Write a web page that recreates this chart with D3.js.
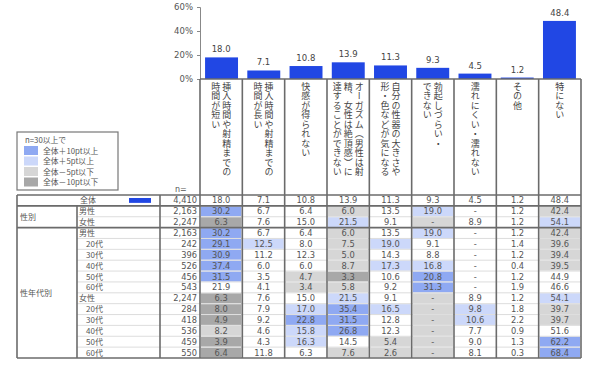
<!DOCTYPE html>
<html><head><meta charset="utf-8">
<script src="https://cdn.jsdelivr.net/npm/d3@7"></script>
<style>
body{margin:0;background:#fff;}
text{font-family:"Noto Sans CJK JP","Noto Sans",sans-serif;}
</style></head>
<body>
<svg id="chart" width="602" height="366"></svg>
<script>
// ---- data ----
const categories = ["短い","長い","快感","オーガズム","性器","勃起","濡れ","その他","特にない"];
const headerLines = [
  ["挿入時間や射精までの","時間が短い"],
  ["挿入時間や射精までの","時間が長い"],
  ["快感が得られない"],
  ["オーガズム（男性は射","精、女性は絶頂感）に","達することができない"],
  ["自分の性器の大きさや","形・色などが気になる"],
  ["勃起しづらい・","できない"],
  ["濡れにくい・濡れない"],
  ["その他"],
  ["特にない"]
];
const rowLabels = ["全体","男性","女性","男性","20代","30代","40代","50代","60代","女性","20代","30代","40代","50代","60代"];
const rowIndent = [0,0,0,0,1,1,1,1,1,0,1,1,1,1,1];
const nValues = [4410,2163,2247,2163,242,396,526,456,543,2247,284,418,536,459,550];
const groupLabels = [{label:"性別",from:1,to:2},{label:"性年代別",from:3,to:14}];
const colShort   = [18.0,30.2,6.3,30.2,29.1,30.9,37.4,31.5,21.9,6.3,8.0,4.9,8.2,3.9,6.4];
const colLong    = [7.1,6.7,7.6,6.7,12.5,11.2,6.0,3.5,4.1,7.6,7.9,9.2,4.6,4.3,11.8];
const colPleasure= [10.8,6.4,15.0,6.4,8.0,12.3,6.0,4.7,3.4,15.0,17.0,22.8,15.8,16.3,6.3];
const colOrgasm  = [13.9,6.0,21.5,6.0,7.5,5.0,8.7,3.3,5.8,21.5,35.4,31.5,26.8,14.5,7.6];
const colGenital = [11.3,13.5,9.1,13.5,19.0,14.3,17.3,10.6,9.2,9.1,16.5,12.8,12.3,5.4,2.6];
const colErect   = [9.3,19.0,null,19.0,9.1,8.8,16.8,20.8,31.3,null,null,null,null,null,null];
const colWet     = [4.5,null,8.9,null,null,null,null,null,null,8.9,9.8,10.6,7.7,9.0,8.1];
const colOther   = [1.2,1.2,1.2,1.2,1.4,1.2,0.4,1.2,1.9,1.2,1.8,2.2,0.9,1.3,0.3];
const colNone    = [48.4,42.4,54.1,42.4,39.6,39.4,39.5,44.9,46.6,54.1,39.7,39.7,51.6,62.2,68.4];
const columns = [colShort,colLong,colPleasure,colOrgasm,colGenital,colErect,colWet,colOther,colNone];
const yTicks = [0,20,40,60];
const legendTitle = "n=30以上で";
const legendItems = ["全体＋10pt以上","全体＋5pt以上","全体－5pt以下","全体－10pt以下"];

// ---- layout ----
const svg = d3.select("#chart");
const barColor = "#2147e4";
const shadeColors = ["#8fa9f2","#ccd8fa","#d6d6d6","#a8a8a8"];
const lineDark = "#6b6b6b", lineLight = "#d4d4d4", textCol = "#555";

const x = d3.scaleBand().domain(categories).range([200,581]);
const xBar = d3.scaleBand().domain(categories).range([200,581]).paddingInner(0.22).paddingOuter(0.12);
const y = d3.scaleLinear().domain([0,60]).range([79,7]);
const rows = d3.range(rowLabels.length);
const yRow = d3.scaleBand().domain(rows).range([195,358]);

// y axis
const yAxis = d3.axisLeft(y).tickValues(yTicks).tickFormat(d=>d+"%").tickSize(3);
const ga = svg.append("g").attr("transform","translate(200,0)").call(yAxis);
ga.select(".domain").attr("stroke","#888");
ga.selectAll(".tick line").attr("stroke","#888");
ga.selectAll(".tick text").attr("fill",textCol).attr("x",-7)
  .style("font-family","'DejaVu Sans',sans-serif").attr("font-size",8.5);

// bars
const totals = columns.map(c=>c[0]);
svg.selectAll("rect.bar").data(categories).join("rect").attr("class","bar")
  .attr("x",d=>xBar(d)).attr("width",xBar.bandwidth())
  .attr("y",(d,i)=>y(totals[i])).attr("height",(d,i)=>y(0)-y(totals[i]))
  .attr("fill",barColor);
svg.selectAll("text.blab").data(categories).join("text").attr("class","blab")
  .attr("x",d=>x(d)+x.bandwidth()/2).attr("y",(d,i)=>y(totals[i])-5)
  .attr("text-anchor","middle").attr("font-size",8.5).attr("fill","#444")
  .style("font-family","'DejaVu Sans',sans-serif")
  .text((d,i)=>totals[i].toFixed(1));

// header vertical text
categories.forEach((c,i)=>{
  const lines = headerLines[i];
  const cx = x(c)+x.bandwidth()/2;
  const step = 11;
  const n = lines.length;
  lines.forEach((ln,j)=>{
    const lx = cx + ((n-1)/2 - j)*step;
    svg.append("text").attr("x",lx).attr("y",82)
      .attr("font-size",9).attr("fill","#444")
      .style("writing-mode","vertical-rl").style("letter-spacing","0.5px")
      .text(ln);
  });
});

// shading cells
function shade(v,total){
  const d = (v==null?0:v) - total;
  if(d>=10) return shadeColors[0];
  if(d>=5) return shadeColors[1];
  if(d<=-10) return shadeColors[3];
  if(d<=-5) return shadeColors[2];
  return null;
}
categories.forEach((c,i)=>{
  const col = columns[i];
  rows.forEach(r=>{
    if(r===0) return;
    const f = shade(col[r], col[0]);
    if(f) svg.append("rect").attr("x",x(c)+1).attr("y",yRow(r)+0.5)
      .attr("width",x.bandwidth()-2).attr("height",yRow.bandwidth()-1).attr("fill",f);
  });
});

// light row lines
rows.forEach(r=>{
  if(r===0) return;
  const yy = yRow(r);
  const x0 = (r===1||r===3)?17:77;
  svg.append("line").attr("x1",x0).attr("x2",581).attr("y1",yy).attr("y2",yy)
    .attr("stroke",lineLight).attr("stroke-width",0.8);
});

// cell values
categories.forEach((c,i)=>{
  svg.selectAll(null).data(columns[i]).join("text")
    .attr("x",x(c)+x.bandwidth()/2).attr("y",(d,r)=>yRow(r)+yRow.bandwidth()/2+3)
    .attr("text-anchor","middle").attr("font-size",8.3).attr("fill",textCol)
    .style("font-family","'DejaVu Sans',sans-serif")
    .text(d=>d==null?"-":d.toFixed(1));
});

// left table text
svg.selectAll("text.rl").data(rowLabels).join("text").attr("class","rl")
  .attr("x",(d,r)=>r===0?88:(rowIndent[r]?86:79))
  .attr("y",(d,r)=>yRow(r)+yRow.bandwidth()/2+3)
  .attr("text-anchor",(d,r)=>r===0?"middle":"start")
  .attr("font-size",8).attr("fill",textCol).text(d=>d);
svg.selectAll("text.nv").data(nValues).join("text").attr("class","nv")
  .attr("x",197).attr("y",(d,r)=>yRow(r)+yRow.bandwidth()/2+3)
  .attr("text-anchor","end").attr("font-size",8.3).attr("fill",textCol)
  .style("font-family","'DejaVu Sans',sans-serif")
  .text(d=>d3.format(",")(d));
svg.append("rect").attr("x",129).attr("y",yRow(0)+3).attr("width",22).attr("height",yRow.bandwidth()-6).attr("fill",barColor);
groupLabels.forEach(g=>{
  const yc = (yRow(g.from)+yRow(g.to)+yRow.bandwidth())/2;
  svg.append("text").attr("x",20).attr("y",yc+3).attr("font-size",8).attr("fill",textCol).text(g.label);
});
svg.append("text").attr("x",175).attr("y",192).attr("font-size",8).attr("fill",textCol)
  .style("font-family","'DejaVu Sans',sans-serif").text("n=");

// dark lines
const dark = (x1,y1,x2,y2,w=1.6)=>svg.append("line").attr("x1",x1).attr("y1",y1).attr("x2",x2).attr("y2",y2)
  .attr("stroke",lineDark).attr("stroke-width",w);
dark(200,79,581,79,1.4);
[195, yRow(1), yRow(3), 358].forEach(yy=>dark(17,yy,581,yy));
dark(17,195,17,358); dark(77,yRow(1),77,358); dark(160,195,160,358);
categories.forEach(c=>dark(x(c),79,x(c),358));
dark(581,79,581,358);

// legend
svg.append("rect").attr("x",17).attr("y",132).attr("width",101).attr("height",58)
  .attr("fill","#fff").attr("stroke","#777").attr("stroke-width",1.2);
svg.append("text").attr("x",25).attr("y",143).attr("font-size",7.8).attr("fill",textCol).text(legendTitle);
legendItems.forEach((t,i)=>{
  const yy = 146 + i*10.5;
  svg.append("rect").attr("x",24).attr("y",yy).attr("width",14).attr("height",9).attr("fill",shadeColors[i]);
  svg.append("text").attr("x",43).attr("y",yy+7.5).attr("font-size",7.8).attr("fill",textCol).text(t);
});
</script>
</body></html>
